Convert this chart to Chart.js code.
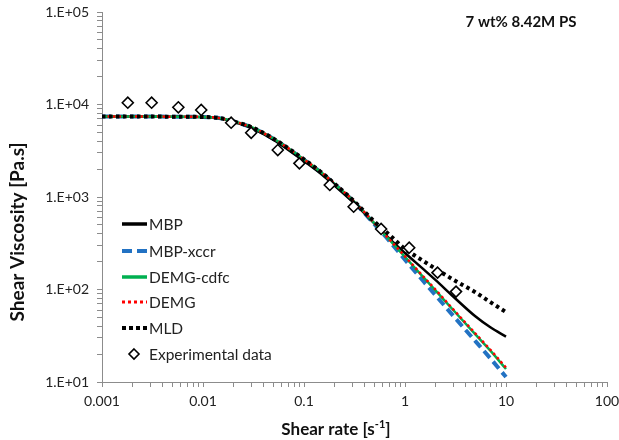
<!DOCTYPE html>
<html>
<head>
<meta charset="utf-8">
<script src="https://cdn.jsdelivr.net/npm/chart.js@4.4.1/dist/chart.umd.min.js"></script>
<style>
  html, body { margin: 0; padding: 0; background: #fff; }
  #wrap { width: 619px; height: 440px; position: relative; }
</style>
</head>
<body>
<div id="wrap"><canvas id="viscChart"></canvas></div>
<script>
// shear rates for the model curves [1/s]
const shearRate = [0.001, 0.002, 0.005, 0.01, 0.015, 0.02, 0.03, 0.05, 0.07, 0.1, 0.15, 0.2, 0.3, 0.5, 0.7, 1, 1.5, 2, 3, 5, 7, 10];

// model viscosities [Pa.s]
const mbp      = [7400, 7400, 7390, 7320, 7040, 6480, 5580, 4130, 3230, 2440, 1750, 1330, 895, 515, 355, 248, 168, 127, 84, 51, 39, 31];
const mbpXccr  = [7400, 7400, 7390, 7330, 7080, 6550, 5680, 4230, 3320, 2520, 1810, 1380, 925, 505, 335, 210, 125, 87, 52, 27.5, 18, 11.3];
const demgCdfc = [7400, 7400, 7390, 7330, 7090, 6570, 5710, 4270, 3360, 2550, 1830, 1390, 935, 517, 345, 225, 138, 98, 60, 32.5, 21.8, 13.8];
const demg     = [7400, 7400, 7390, 7330, 7090, 6570, 5710, 4270, 3360, 2550, 1835, 1395, 940, 520, 348, 228, 140, 100, 61, 33.2, 22.3, 14.3];
const mld      = [7400, 7400, 7390, 7330, 7090, 6570, 5710, 4270, 3360, 2550, 1835, 1395, 940, 540, 390, 275, 205, 168, 128, 93, 73, 57];

// experimental data
const expRate = [0.0018, 0.0031, 0.0057, 0.0096, 0.019, 0.03, 0.055, 0.09, 0.18, 0.31, 0.58, 1.1, 2.1, 3.2];
const expVisc = [10450, 10450, 9330, 8730, 6350, 4950, 3220, 2310, 1350, 785, 451, 283, 152, 95];

// axes
const xDecades = [0.001, 0.01, 0.1, 1, 10, 100];
const xTickLabels = ['0.001', '0.01', '0.1', '1', '10', '100'];
const yDecades = [10, 100, 1000, 10000, 100000];
const yTickLabels = ['1.E+01', '1.E+02', '1.E+03', '1.E+04', '1.E+05'];

const axisGray = '#8c8c8c';
const textCol = '#222';
const blue = '#2272c3';
const green = '#00b050';
const red = '#ff0000';

function toPts(xs, ys) {
    return xs.map(function(x, i) { return {x: x, y: ys[i]}; });
}

// decades plus 2..9 minor ticks
function logTicks(decades) {
    const out = [];
    decades.forEach(function(d, i) {
        out.push({value: d});
        if (i < decades.length - 1) {
            for (let k = 2; k <= 9; k++) out.push({value: d * k});
        }
    });
    return out;
}

function decadeLabel(v, decades, labels) {
    for (let i = 0; i < decades.length; i++) {
        if (Math.abs(v / decades[i] - 1) < 1e-6) return labels[i];
    }
    return '';
}

// legend drawn inside the plot, like the Excel original
const insideLegend = {
    id: 'insideLegend',
    afterDraw: function(chart) {
        const ctx = chart.ctx;
        const items = [0, 1, 2, 3, 4, 5];
        const x0 = 122, x1 = 147, tx = 149;
        const ys = [224, 251, 277, 302, 328, 354];
        ctx.save();
        ctx.font = '15.5px Lato';
        ctx.textBaseline = 'middle';
        items.forEach(function(idx, i) {
            const ds = chart.data.datasets[idx];
            const y = ys[i];
            if (ds.showLine === false) {
                ctx.beginPath();
                ctx.moveTo(134, y - 5);
                ctx.lineTo(139, y);
                ctx.lineTo(134, y + 5);
                ctx.lineTo(129, y);
                ctx.closePath();
                ctx.fillStyle = '#fff';
                ctx.fill();
                ctx.lineWidth = 1.6;
                ctx.strokeStyle = '#000';
                ctx.stroke();
            } else {
                ctx.beginPath();
                ctx.setLineDash(ds.legendDash || []);
                ctx.lineWidth = ds.legendWidth || ds.borderWidth;
                ctx.strokeStyle = ds.borderColor;
                ctx.moveTo(x0, y);
                ctx.lineTo(x1, y);
                ctx.stroke();
                ctx.setLineDash([]);
            }
            ctx.fillStyle = textCol;
            ctx.fillText(ds.label, tx, y + 1);
        });
        ctx.restore();
    }
};

// axis titles and the sample title
const titles = {
    id: 'titles',
    afterDraw: function(chart) {
        const ctx = chart.ctx;
        ctx.save();
        ctx.fillStyle = '#111';
        ctx.textBaseline = 'middle';

        ctx.font = 'bold 15px Lato';
        ctx.textAlign = 'center';
        ctx.fillText('7 wt% 8.42M PS', 521, 22);

        // x title with superscript
        ctx.font = 'bold 17px Lato';
        const a = 'Shear rate [s', b = '-1', c = ']';
        const wa = ctx.measureText(a).width;
        const wc = ctx.measureText(c).width;
        ctx.font = 'bold 11px Lato';
        const wb = ctx.measureText(b).width;
        let x = 336 - (wa + wb + wc) / 2;
        ctx.textAlign = 'left';
        ctx.font = 'bold 17px Lato';
        ctx.fillText(a, x, 430);
        ctx.font = 'bold 11px Lato';
        ctx.fillText(b, x + wa, 424);
        ctx.font = 'bold 17px Lato';
        ctx.fillText(c, x + wa + wb, 430);

        // y title
        ctx.translate(18, 232);
        ctx.rotate(-Math.PI / 2);
        ctx.textAlign = 'center';
        ctx.font = 'bold 19px Lato';
        ctx.fillText('Shear Viscosity [Pa.s]', 0, 0);
        ctx.restore();
    }
};

const ctx = document.getElementById('viscChart').getContext('2d');

new Chart(ctx, {
    type: 'line',
    data: {
        datasets: [
            {
                label: 'MBP', data: toPts(shearRate, mbp),
                borderColor: '#000', borderWidth: 2.5, legendWidth: 3.5,
                pointRadius: 0, cubicInterpolationMode: 'monotone', order: 4
            },
            {
                label: 'MBP-xccr', data: toPts(shearRate, mbpXccr),
                borderColor: blue, borderWidth: 4, borderDash: [9, 5], legendDash: [10, 5],
                pointRadius: 0, cubicInterpolationMode: 'monotone', order: 5
            },
            {
                label: 'DEMG-cdfc', data: toPts(shearRate, demgCdfc),
                borderColor: green, borderWidth: 2.5, legendWidth: 3.5,
                pointRadius: 0, cubicInterpolationMode: 'monotone', order: 3
            },
            {
                label: 'DEMG', data: toPts(shearRate, demg),
                borderColor: red, borderWidth: 2.5, borderDash: [2.5, 3], legendDash: [3, 3], legendWidth: 3,
                pointRadius: 0, cubicInterpolationMode: 'monotone', order: 2
            },
            {
                label: 'MLD', data: toPts(shearRate, mld),
                borderColor: '#000', borderWidth: 4, borderDash: [3.5, 3.5], legendDash: [4, 3],
                pointRadius: 0, cubicInterpolationMode: 'monotone', order: 1
            },
            {
                label: 'Experimental data', data: toPts(expRate, expVisc),
                showLine: false, pointStyle: 'rectRot', pointRadius: 5.5,
                pointBackgroundColor: '#fff', pointBorderColor: '#000', pointBorderWidth: 1.6,
                borderColor: '#000', order: 0
            }
        ]
    },
    options: {
        responsive: true,
        maintainAspectRatio: false,
        animation: false,
        layout: { padding: { top: 12, right: 12, left: 0, bottom: 0 } },
        plugins: {
            legend: { display: false },
            tooltip: { enabled: false }
        },
        scales: {
            x: {
                type: 'logarithmic',
                min: 0.001,
                max: 100,
                afterBuildTicks: function(scale) { scale.ticks = logTicks(xDecades); },
                afterFit: function(scale) {
                    scale.height = 58;
                    scale.paddingLeft = 0;
                    scale.paddingRight = 0;
                },
                grid: { drawOnChartArea: false, drawTicks: true, tickLength: 5, color: axisGray },
                border: { display: true, color: axisGray, width: 1 },
                ticks: {
                    autoSkip: false, maxRotation: 0, padding: 6,
                    color: textCol, font: { family: 'Lato', size: 14 },
                    callback: function(v) { return decadeLabel(v, xDecades, xTickLabels); }
                }
            },
            y: {
                type: 'logarithmic',
                min: 10,
                max: 100000,
                afterBuildTicks: function(scale) { scale.ticks = logTicks(yDecades); },
                afterFit: function(scale) {
                    scale.width = 102;
                    scale.paddingTop = 0;
                    scale.paddingBottom = 0;
                },
                grid: { drawOnChartArea: false, drawTicks: true, tickLength: 5, color: axisGray },
                border: { display: true, color: axisGray, width: 1 },
                ticks: {
                    autoSkip: false, padding: 8,
                    color: textCol, font: { family: 'Lato', size: 14 },
                    callback: function(v) { return decadeLabel(v, yDecades, yTickLabels); }
                }
            }
        }
    },
    plugins: [insideLegend, titles]
});
</script>
</body>
</html>
